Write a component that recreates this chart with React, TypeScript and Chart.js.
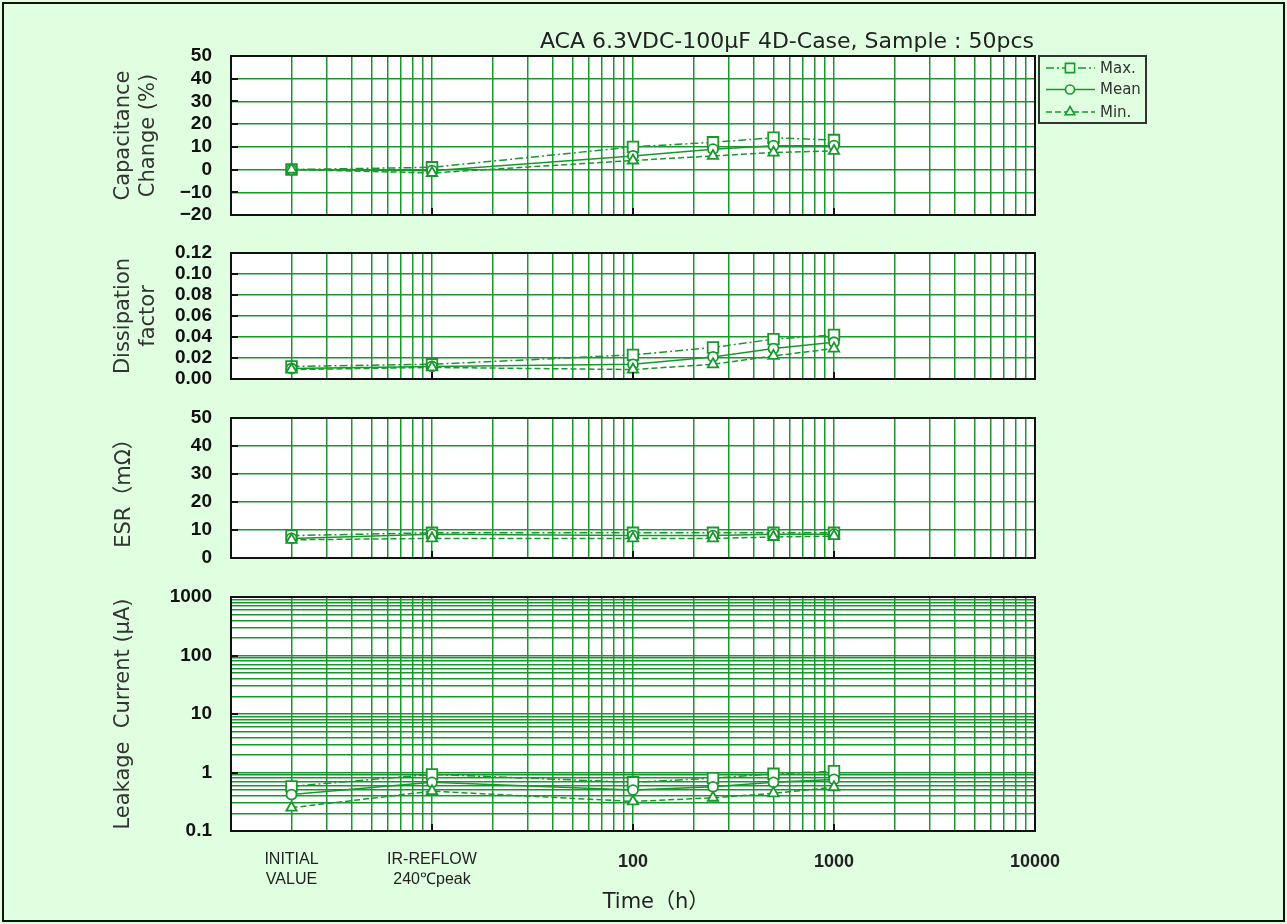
import React, { useEffect, useRef } from 'react';
import { Chart, registerables } from 'chart.js';

Chart.register(...registerables);

// ---------------- data ----------------
const timePoints = [2, 10, 100, 250, 500, 1000]; // INITIAL, IR-REFLOW, 100h, 250h, 500h, 1000h
const xTickValues = [2, 10, 100, 1000, 10000];
const xTickLabels: (string | string[])[] = [['INITIAL', 'VALUE'], ['IR-REFLOW', '240℃peak'], '100', '1000', '10000'];
const seriesNames = ['Max.', 'Mean', 'Min.'];

const capMax = [0, 1, 10, 12, 14, 13];
const capMean = [0, -0.5, 6, 9, 10.5, 10.5];
const capMin = [0, -1.5, 4, 6, 7.5, 8.2];

const dfMax = [0.012, 0.014, 0.023, 0.030, 0.038, 0.042];
const dfMean = [0.010, 0.012, 0.014, 0.021, 0.029, 0.035];
const dfMin = [0.009, 0.011, 0.009, 0.014, 0.022, 0.029];

const esrMax = [8, 9, 9, 9, 9, 9];
const esrMean = [7, 8.5, 8, 8, 8.5, 8.5];
const esrMin = [6.5, 7, 7, 7, 7.5, 7.8];

const lcMax = [0.58, 0.93, 0.68, 0.8, 0.95, 1.05];
const lcMean = [0.42, 0.68, 0.5, 0.57, 0.68, 0.76];
const lcMin = [0.25, 0.48, 0.32, 0.37, 0.44, 0.56];

const chartTitle = 'ACA 6.3VDC-100μF 4D-Case, Sample : 50pcs';
const xAxisTitle = 'Time（h）';

// ---------------- styles / layout ----------------
const W = 1287;
const H = 924;
const BG = '#e0ffe0';
const GREEN = 'rgb(24,152,44)';
const PLOT_LEFT = 231;
const PLOT_RIGHT = 1035;
const XAXIS_H = 60;
const TITLE_FONT = "'DejaVu Sans', 'Noto Sans CJK JP', sans-serif";
const TICK_FONT = "'Liberation Sans', Arial, sans-serif";

const SERIES_STYLE = [
  { point: 'rect', r: 7.5, dash: [8, 3, 2, 3], lr: 6.5 },
  { point: 'circle', r: 5, dash: [], lr: 4.5 },
  { point: 'triangle', r: 6, dash: [6, 3], lr: 5.5 },
];

function logGrid(minExp: number, maxExp: number): number[] {
  const out: number[] = [];
  for (let e = minExp; e < maxExp; e++) {
    for (let m = 1; m <= 9; m++) out.push(Number((m * Math.pow(10, e)).toPrecision(6)));
  }
  out.push(Number(Math.pow(10, maxExp).toPrecision(6)));
  return out;
}

const isPow10 = (v: number) => Math.abs(Math.log10(v) - Math.round(Math.log10(v))) < 1e-9;
const minusFmt = (v: number) => (v < 0 ? '−' + Math.abs(v) : String(v));

type Panel = {
  key: string;
  yTitle: string | string[];
  titlePad: number;
  yType: 'linear' | 'logarithmic';
  yMin: number;
  yMax: number;
  yStep?: number;
  yFormat: (v: number) => string;
  series: number[][];
  top: number;
  bottom: number;
  showX: boolean;
  extra?: (chart: any) => void;
};

function drawMarker(ctx: CanvasRenderingContext2D, style: string, x: number, y: number, r: number) {
  ctx.beginPath();
  if (style === 'rect') {
    const s = r * Math.SQRT1_2;
    ctx.rect(x - s, y - s, 2 * s, 2 * s);
  } else if (style === 'circle') {
    ctx.arc(x, y, r, 0, Math.PI * 2);
  } else {
    let rad = 0;
    ctx.moveTo(x + Math.sin(rad) * r, y - Math.cos(rad) * r);
    rad += (2 * Math.PI) / 3;
    ctx.lineTo(x + Math.sin(rad) * r, y - Math.cos(rad) * r);
    rad += (2 * Math.PI) / 3;
    ctx.lineTo(x + Math.sin(rad) * r, y - Math.cos(rad) * r);
    ctx.closePath();
  }
  ctx.fill();
  ctx.stroke();
}

function drawTitleAndLegend(chart: any) {
  const ctx: CanvasRenderingContext2D = chart.ctx;
  ctx.save();
  ctx.fillStyle = '#222';
  ctx.font = `22px ${TITLE_FONT}`;
  ctx.textAlign = 'right';
  ctx.textBaseline = 'alphabetic';
  ctx.fillText(chartTitle, 1034, 48);

  // legend box
  ctx.strokeStyle = '#333';
  ctx.lineWidth = 2;
  ctx.strokeRect(1039, 56, 107, 67);
  const rows = [68, 89.5, 112];
  seriesNames.forEach((name, i) => {
    const y = rows[i];
    const st = SERIES_STYLE[i];
    ctx.strokeStyle = GREEN;
    ctx.lineWidth = 1.5;
    ctx.setLineDash(st.dash);
    ctx.beginPath();
    ctx.moveTo(1046, y);
    ctx.lineTo(1095, y);
    ctx.stroke();
    ctx.setLineDash([]);
    ctx.fillStyle = BG;
    ctx.lineWidth = 1.6;
    drawMarker(ctx, st.point, 1070, y, st.lr);
    ctx.fillStyle = '#333';
    ctx.font = `15px ${TITLE_FONT}`;
    ctx.textAlign = 'left';
    ctx.textBaseline = 'middle';
    ctx.fillText(name, 1100, y + 1);
  });
  ctx.restore();
}

function drawXTitle(chart: any) {
  const ctx: CanvasRenderingContext2D = chart.ctx;
  ctx.save();
  ctx.fillStyle = '#222';
  ctx.font = `21px ${TITLE_FONT}`;
  ctx.textAlign = 'center';
  ctx.textBaseline = 'alphabetic';
  ctx.fillText(xAxisTitle, 656, 908);
  ctx.restore();
}

const panels: Panel[] = [
  {
    key: 'cap',
    yTitle: ['Capacitance', 'Change (%)'],
    titlePad: 111,
    yType: 'linear',
    yMin: -20,
    yMax: 50,
    yStep: 10,
    yFormat: minusFmt,
    series: [capMax, capMean, capMin],
    top: 56,
    bottom: 215,
    showX: false,
    extra: drawTitleAndLegend,
  },
  {
    key: 'df',
    yTitle: ['Dissipation', 'factor'],
    titlePad: 111,
    yType: 'linear',
    yMin: 0,
    yMax: 0.12,
    yStep: 0.02,
    yFormat: (v) => v.toFixed(2),
    series: [dfMax, dfMean, dfMin],
    top: 253,
    bottom: 379,
    showX: false,
  },
  {
    key: 'esr',
    yTitle: 'ESR（mΩ）',
    titlePad: 112,
    yType: 'linear',
    yMin: 0,
    yMax: 50,
    yStep: 10,
    yFormat: minusFmt,
    series: [esrMax, esrMean, esrMin],
    top: 418,
    bottom: 558,
    showX: false,
  },
  {
    key: 'lc',
    yTitle: 'Leakage  Current (μA)',
    titlePad: 111,
    yType: 'logarithmic',
    yMin: 0.1,
    yMax: 1000,
    yFormat: (v) => (isPow10(v) ? String(Number(v.toPrecision(6))) : ''),
    series: [lcMax, lcMean, lcMin],
    top: 597,
    bottom: 831,
    showX: true,
    extra: drawXTitle,
  },
];

const xGrid = logGrid(0, 4);
const yLogGrid = logGrid(-1, 3);

function xLabelFor(v: number): string | string[] {
  const idx = xTickValues.findIndex((t) => Math.abs(t - v) < 1e-9);
  return idx >= 0 ? xTickLabels[idx] : '';
}

function buildConfig(p: Panel): any {
  const datasets = p.series.map((vals, i) => ({
    label: seriesNames[i],
    data: timePoints.map((t, j) => ({ x: t, y: vals[j] })),
    borderColor: GREEN,
    borderWidth: 1.5,
    borderDash: SERIES_STYLE[i].dash,
    pointStyle: SERIES_STYLE[i].point,
    pointRadius: SERIES_STYLE[i].r,
    pointBorderWidth: 1.8,
    pointBackgroundColor: '#ffffff',
    pointBorderColor: GREEN,
    fill: false,
    tension: 0,
    order: 2 - i,
  }));

  const framePlugin = {
    id: 'frame_' + p.key,
    beforeDraw(chart: any) {
      const { ctx, chartArea: a } = chart;
      ctx.save();
      ctx.fillStyle = '#ffffff';
      ctx.fillRect(a.left, a.top, a.right - a.left, a.bottom - a.top);
      ctx.restore();
    },
    afterDraw(chart: any) {
      const { ctx, chartArea: a, scales } = chart;
      ctx.save();
      ctx.strokeStyle = '#111';
      ctx.lineWidth = 2;
      ctx.strokeRect(a.left, a.top, a.right - a.left, a.bottom - a.top);
      ctx.beginPath();
      scales.y.ticks.forEach((t: any) => {
        if (t.label !== '' && t.label != null) {
          const y = Math.round(scales.y.getPixelForValue(t.value));
          ctx.moveTo(a.left, y);
          ctx.lineTo(a.left + 7, y);
        }
      });
      [10, 100, 1000].forEach((v) => {
        const x = Math.round(scales.x.getPixelForValue(v));
        ctx.moveTo(x, a.bottom);
        ctx.lineTo(x, a.bottom - 7);
      });
      ctx.stroke();
      ctx.restore();
      if (p.extra) p.extra(chart);
    },
  };

  const yScale: any = {
    type: p.yType,
    min: p.yMin,
    max: p.yMax,
    afterFit: (s: any) => {
      s.width = PLOT_LEFT;
    },
    grid: { color: GREEN, lineWidth: 1.5, drawTicks: false },
    border: { display: false },
    ticks: {
      color: '#111',
      font: { family: TICK_FONT, size: 19, weight: 'bold' },
      padding: 19,
      autoSkip: false,
      callback: (v: any) => p.yFormat(Number(v)),
    },
    title: {
      display: true,
      text: p.yTitle,
      color: '#333',
      font: { family: TITLE_FONT, size: 21, lineHeight: 1.2 },
      padding: { top: p.titlePad, bottom: 0 },
    },
  };
  if (p.yStep) yScale.ticks.stepSize = p.yStep;
  if (p.yType === 'logarithmic') {
    yScale.afterBuildTicks = (s: any) => {
      s.ticks = yLogGrid.map((v) => ({ value: v }));
    };
  }

  const xScale: any = {
    type: 'logarithmic',
    min: 1,
    max: 10000,
    afterBuildTicks: (s: any) => {
      s.ticks = xGrid.map((v) => ({ value: v }));
    },
    afterFit: (s: any) => {
      s.height = p.showX ? XAXIS_H : 0;
    },
    grid: { color: GREEN, lineWidth: 1.5, drawTicks: false },
    border: { display: false },
    ticks: {
      display: p.showX,
      autoSkip: false,
      maxRotation: 0,
      minRotation: 0,
      padding: 19,
      color: '#222',
      font: (c: any) => {
        const v = c.tick ? c.tick.value : 0;
        if (v === 2 || v === 10) return { family: TICK_FONT, size: 16, weight: 'normal', lineHeight: 1.25 };
        return { family: TICK_FONT, size: 18, weight: 'bold', lineHeight: 1.3 };
      },
      callback: (v: any) => xLabelFor(Number(v)),
    },
  };

  return {
    type: 'line',
    data: { datasets },
    options: {
      responsive: false,
      maintainAspectRatio: false,
      animation: false,
      devicePixelRatio: 1,
      events: [],
      layout: {
        padding: {
          left: 0,
          right: W - PLOT_RIGHT,
          top: p.top,
          bottom: H - p.bottom - (p.showX ? XAXIS_H : 0),
        },
      },
      plugins: { legend: { display: false }, tooltip: { enabled: false }, title: { display: false } },
      scales: { x: xScale, y: yScale },
    },
    plugins: [framePlugin],
  };
}

export default function App() {
  const canvasRefs = useRef<(HTMLCanvasElement | null)[]>([]);

  useEffect(() => {
    const charts = panels.map((p, i) => new Chart(canvasRefs.current[i] as HTMLCanvasElement, buildConfig(p)));
    return () => charts.forEach((c) => c.destroy());
  }, []);

  return (
    <div
      style={{
        position: 'absolute',
        left: 0,
        top: 0,
        width: W,
        height: H,
        background: BG,
        overflow: 'hidden',
      }}
    >
      <div
        style={{
          position: 'absolute',
          left: 2,
          top: 2,
          width: 1283,
          height: 920,
          border: '2px solid #111',
          boxSizing: 'border-box',
        }}
      />
      {panels.map((p, i) => (
        <canvas
          key={p.key}
          ref={(el) => {
            canvasRefs.current[i] = el;
          }}
          width={W}
          height={H}
          style={{ position: 'absolute', left: 0, top: 0 }}
        />
      ))}
    </div>
  );
}
